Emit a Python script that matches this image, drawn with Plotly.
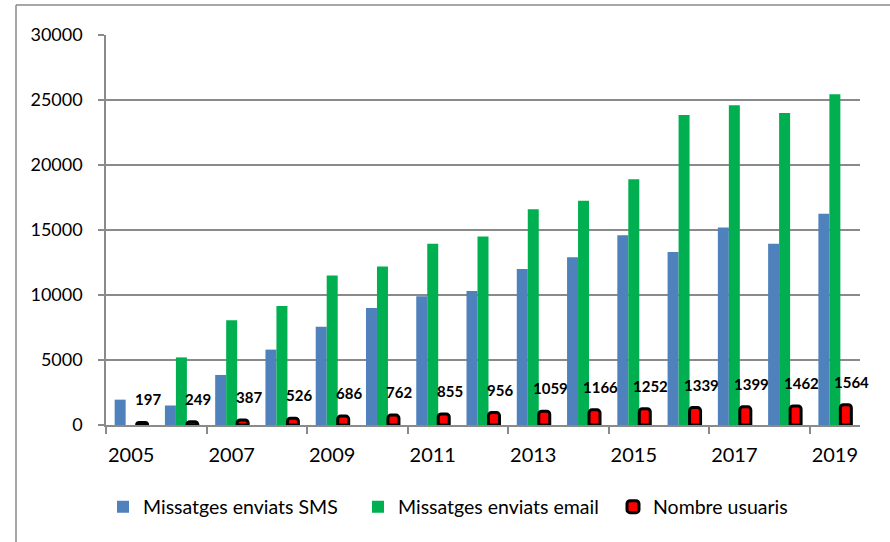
import plotly.graph_objects as go

years = [str(y) for y in range(2005, 2020)]
sms = [1950, 1500, 3850, 5800, 7550, 9000, 9900, 10300, 12000, 12900, 14600, 13300, 15200, 13950, 16250]
email = [None, 5200, 8050, 9150, 11500, 12200, 13950, 14500, 16600, 17250, 18900, 23850, 24600, 24000, 25450]
usuaris = [197, 249, 387, 526, 686, 762, 855, 956, 1059, 1166, 1252, 1339, 1399, 1462, 1564]

W, H = 890, 542
L, R, T, B = 106, 30, 35, 117
pw, ph = W - L - R, H - T - B

def px_x(p):
    return (p - L) / pw

def px_y(p):
    return (H - B - p) / ph

FONT = "Lato"
GRID = "#8a8a8a"

fig = go.Figure()
fig.add_trace(go.Bar(x=years, y=sms, name="Missatges enviats SMS",
                     marker=dict(color="#4F81BD", line=dict(width=0))))
fig.add_trace(go.Bar(x=years, y=email, name="Missatges enviats email",
                     marker=dict(color="#00B050", line=dict(width=0))))
fig.add_trace(go.Bar(x=years, y=usuaris, name="Nombre usuaris",
                     marker=dict(color="#FF0000", line=dict(color="#000000", width=3),
                                 cornerradius=3)))

for i, v in enumerate(usuaris):
    fig.add_annotation(x=i, y=v, text=f"<b>{v}</b>", showarrow=False,
                       xshift=17, yshift=23,
                       font=dict(family=FONT, size=15, color="#000000"))

# outer chart border (top and left edges visible)
fig.add_shape(type="line", xref="paper", yref="paper",
              x0=px_x(16), x1=px_x(W + 2), y0=px_y(5), y1=px_y(5),
              line=dict(color=GRID, width=1.5))
fig.add_shape(type="line", xref="paper", yref="paper",
              x0=px_x(16), x1=px_x(16), y0=px_y(5), y1=px_y(H + 2),
              line=dict(color=GRID, width=1.5))

fig.update_layout(
    width=W, height=H,
    margin=dict(l=L, r=R, t=T, b=B, pad=0, autoexpand=False),
    paper_bgcolor="white", plot_bgcolor="white",
    barmode="group", bargap=0.344, bargroupgap=0,
    font=dict(family=FONT, color="#000000"),
    showlegend=True,
    legend=dict(orientation="h", x=px_x(103), xanchor="left",
                y=px_y(507), yanchor="middle",
                entrywidth=210, entrywidthmode="pixels",
                font=dict(family=FONT, size=19.5, color="#000000"),
                itemclick=False, traceorder="normal"),
)
fig.update_xaxes(type="category", range=[-0.5, len(years) - 0.5],
                 showline=True, linecolor=GRID, linewidth=1.5,
                 ticks="outside", ticklen=7, tickcolor=GRID, tickwidth=1.5,
                 tickson="boundaries", dtick=2, showgrid=False, tickangle=0,
                 tickfont=dict(family=FONT, size=20, color="#000000"),
                 ticklabelstandoff=11)
fig.update_yaxes(range=[0, 30000], dtick=5000, tickformat="d",
                 showline=True, linecolor=GRID, linewidth=1.5,
                 ticks="outside", ticklen=6, tickcolor=GRID, tickwidth=1.5,
                 showgrid=True, gridcolor=GRID, gridwidth=1.5, zeroline=False,
                 tickfont=dict(family=FONT, size=18, color="#000000"),
                 ticklabelstandoff=12)

fig.write_html("out.html", config={"displayModeBar": False},
               post_script="document.body.style.margin='0px';")
